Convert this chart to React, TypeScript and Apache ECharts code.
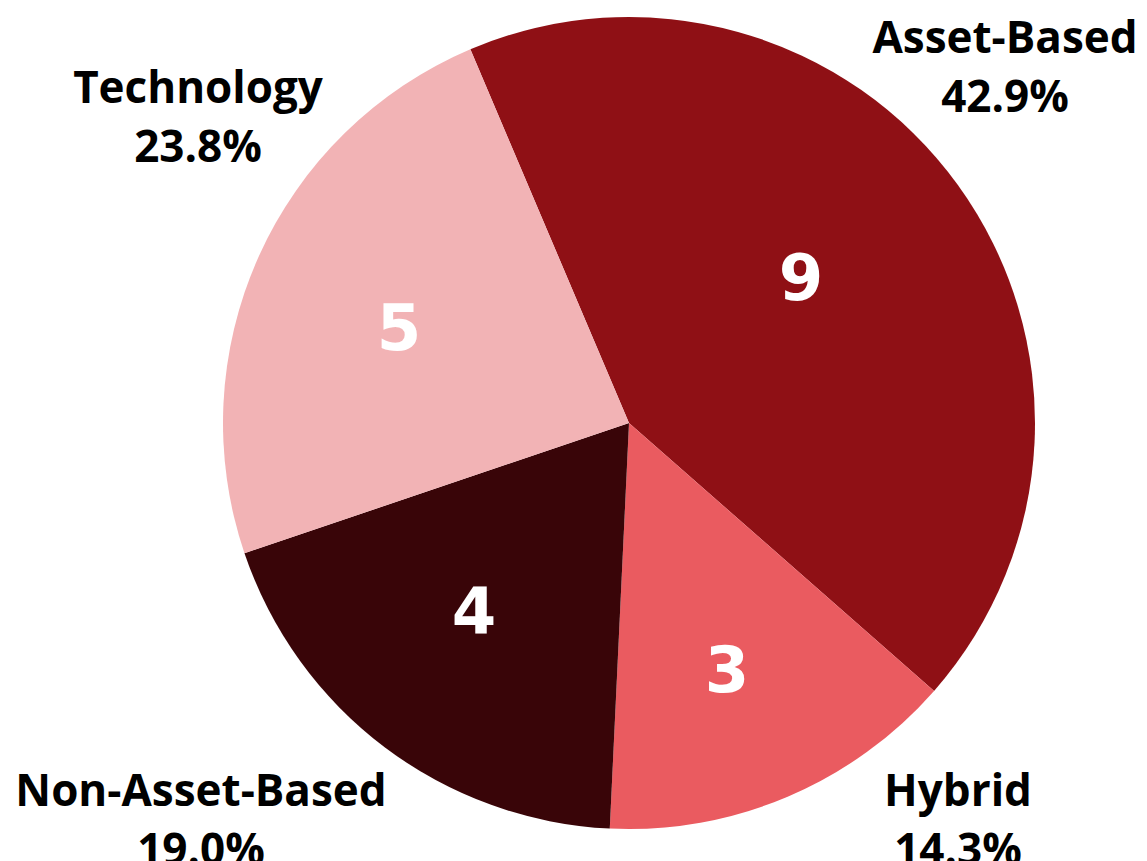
import React, { useEffect, useRef } from "react";
import * as echarts from "echarts";

const categories = ["Asset-Based", "Hybrid", "Non-Asset-Based", "Technology"];
const counts = [9, 3, 4, 5];
const sliceColors = ["#8F1015", "#EA5B60", "#390508", "#F2B3B5"];
// label anchor positions (layout, not data)
const nameLabelAnchors = [
  [1005, 65],
  [958, 818],
  [201, 818],
  [198, 115],
];
const valueLabelAnchors = [
  [801, 278],
  [727, 670],
  [474, 612],
  [399, 328],
];

export default function App() {
  const ref = useRef<HTMLDivElement>(null);
  useEffect(() => {
    if (!ref.current) return;
    const chart = echarts.init(ref.current, undefined, { renderer: "svg" });
    const total = counts.reduce((a, b) => a + b, 0);
    const data = categories.map((name, i) => ({
      name,
      value: counts[i],
      itemStyle: { color: sliceColors[i] },
    }));
    const common = {
      type: "pie" as const,
      center: [629, 423],
      radius: 406,
      startAngle: 113,
      clockwise: true,
      avoidLabelOverlap: false,
      emphasis: { disabled: true },
      labelLine: { show: false },
    };
    chart.setOption({
      animation: false,
      backgroundColor: "#ffffff",
      series: [
        {
          ...common,
          data,
          label: {
            show: true,
            position: "inside",
            formatter: "{c}",
            color: "#ffffff",
            fontFamily: "DejaVu Sans",
            fontWeight: "bold",
            fontSize: 64,
          },
          labelLayout: (p: any) => ({
            x: valueLabelAnchors[p.dataIndex][0],
            y: valueLabelAnchors[p.dataIndex][1],
            align: "center",
            verticalAlign: "middle",
          }),
        },
        {
          ...common,
          silent: true,
          data: categories.map((name, i) => ({
            name,
            value: counts[i],
            itemStyle: { color: "rgba(0,0,0,0)" },
          })),
          label: {
            show: true,
            position: "outside",
            formatter: (p: any) =>
              p.name + "\n" + ((p.value / total) * 100).toFixed(1) + "%",
            color: "#000000",
            fontFamily: "Open Sans",
            fontWeight: "bold",
            fontSize: 44,
            lineHeight: 59,
            align: "center",
          },
          labelLayout: (p: any) => ({
            x: nameLabelAnchors[p.dataIndex][0],
            y: nameLabelAnchors[p.dataIndex][1],
            align: "center",
            verticalAlign: "middle",
          }),
        },
      ],
    });
    return () => chart.dispose();
  }, []);
  return (
    <div
      ref={ref}
      style={{ position: "absolute", left: 0, top: 0, width: 1147, height: 861 }}
    />
  );
}
